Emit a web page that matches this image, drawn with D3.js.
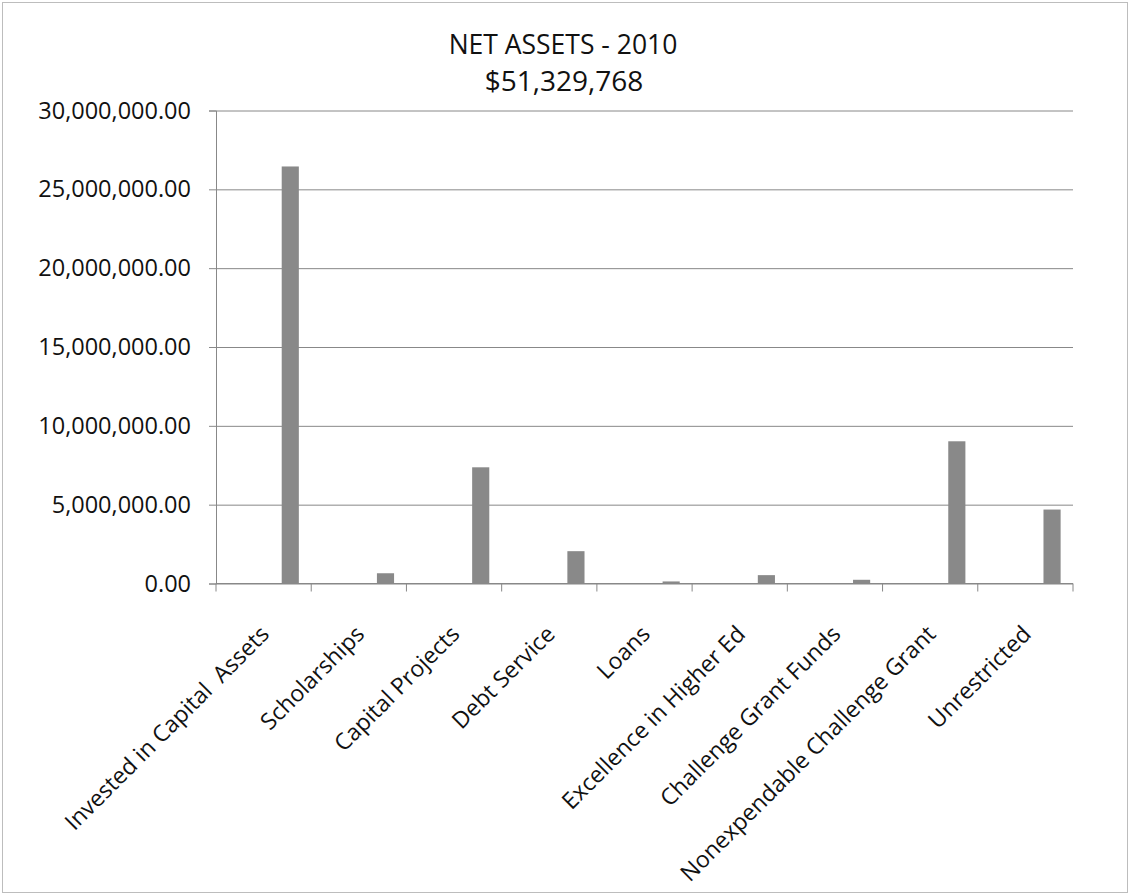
<!DOCTYPE html>
<html>
<head>
<meta charset="utf-8">
<script src="https://cdn.jsdelivr.net/npm/d3@7"></script>
<style>
  html, body { margin: 0; padding: 0; background: #fff; }
  svg { display: block; }
  text { font-family: "Open Sans", "Noto Sans", sans-serif; fill: #111; }
</style>
</head>
<body>
<svg id="chart" width="1130" height="895"></svg>
<script>
// Net assets by category, fiscal year 2010
const titleLines = ["NET ASSETS - 2010", "$51,329,768"];
const categories = [
  "Invested in Capital  Assets",
  "Scholarships",
  "Capital Projects",
  "Debt Service",
  "Loans",
  "Excellence in Higher Ed",
  "Challenge Grant Funds",
  "Nonexpendable Challenge Grant",
  "Unrestricted"
];
const values = [26450000, 650000, 7370000, 2050000, 130000, 530000, 235000, 9020000, 4690000];
const yTicks = [0, 5000000, 10000000, 15000000, 20000000, 25000000, 30000000];

const svg = d3.select("#chart");
const W = 1130, H = 895;
const plot = { left: 216, right: 1073, top: 110.5, bottom: 583.5 };
const axisColor = "#888";

// outer chart frame
svg.append("rect")
  .attr("x", 2.5).attr("y", 2.5)
  .attr("width", W - 5).attr("height", H - 5)
  .attr("fill", "#fff")
  .attr("stroke", "#bdbdbd").attr("stroke-width", 1);

const x = d3.scaleBand().domain(categories).range([plot.left, plot.right]).padding(0);
const y = d3.scaleLinear().domain([0, 30000000]).range([plot.bottom, plot.top]);

// title
svg.append("text").attr("x", 563).attr("y", 54)
  .attr("text-anchor", "middle").attr("font-size", 26.5).text(titleLines[0]);
svg.append("text").attr("x", 564).attr("y", 91)
  .attr("text-anchor", "middle").attr("font-size", 28).text(titleLines[1]);

// horizontal gridlines + y axis
const yAxis = d3.axisLeft(y)
  .tickValues(yTicks)
  .tickFormat(d3.format(",.2f"))
  .tickSize(7)
  .tickPadding(18);
const gy = svg.append("g").attr("transform", `translate(${plot.left},0)`).call(yAxis);
gy.select(".domain").attr("stroke", axisColor);
gy.selectAll(".tick line").attr("stroke", axisColor);
gy.selectAll(".tick text").attr("font-size", 23.5).attr("fill", "#111")
  .attr("font-family", "\"Open Sans\", sans-serif");
gy.selectAll(".tick").append("line")
  .attr("x1", 0).attr("x2", plot.right - plot.left)
  .attr("stroke", axisColor).attr("stroke-width", 1);

// bars sit toward the right side of each category slot
const bw = x.bandwidth();
svg.append("g").selectAll("rect")
  .data(categories.map((c, i) => ({ c, v: values[i] })))
  .join("rect")
  .attr("x", d => x(d.c) + bw * 0.69)
  .attr("width", bw * 0.18)
  .attr("y", d => y(d.v))
  .attr("height", d => y(0) - y(d.v))
  .attr("fill", "#898989");

// x axis with tick marks between categories
const gx = svg.append("g").attr("transform", `translate(0,${plot.bottom})`);
gx.append("line").attr("x1", plot.left).attr("x2", plot.right)
  .attr("stroke", axisColor);
const bounds = categories.map(c => x(c)).concat([plot.right]);
gx.selectAll("line.tk").data(bounds).join("line").attr("class", "tk")
  .attr("x1", d => d).attr("x2", d => d)
  .attr("y1", 0).attr("y2", 8)
  .attr("stroke", axisColor);

// rotated category labels
gx.selectAll("text.lbl").data(categories).join("text").attr("class", "lbl")
  .attr("font-size", 23)
  .attr("text-anchor", "end")
  .style("white-space", "pre")
  .attr("transform", d => `translate(${x(d) + bw / 2 + 7},${52}) rotate(-45)`)
  .text(d => d);
</script>
</body>
</html>
